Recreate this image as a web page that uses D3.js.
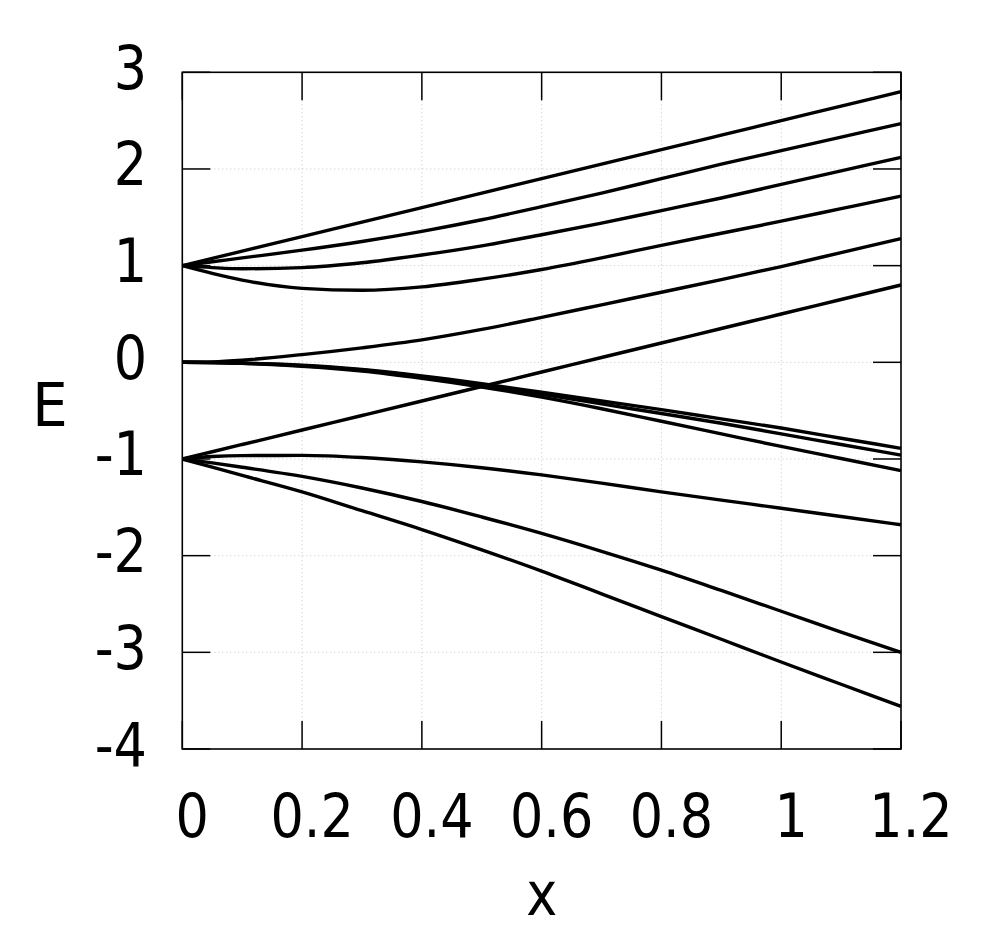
<!DOCTYPE html>
<html>
<head>
<meta charset="utf-8">
<script src="https://cdn.jsdelivr.net/npm/d3@7"></script>
<style>
  html, body { margin: 0; padding: 0; background: #fff; }
  svg { display: block; }
  text { font-family: "DejaVu Sans", Verdana, sans-serif; fill: #000; }
</style>
</head>
<body>
<svg id="chart" width="1000" height="950"></svg>
<script>
// ---- data ----
const xValues = [0, 0.05, 0.1, 0.2, 0.3, 0.4, 0.5, 0.6, 0.7, 0.8, 0.9, 1.0, 1.1, 1.2];

const level1  = [1, 1.075, 1.15, 1.3, 1.45, 1.6, 1.75, 1.9, 2.05, 2.2, 2.35, 2.5, 2.65, 2.8];
const level2  = [1, 1.04, 1.08, 1.16, 1.25, 1.355, 1.475, 1.61, 1.75, 1.9, 2.05, 2.19, 2.33, 2.47];
const level3  = [1, 0.98, 0.968, 0.98, 1.03, 1.11, 1.205, 1.32, 1.44, 1.57, 1.7, 1.84, 1.98, 2.12];
const level4  = [1, 0.92, 0.85, 0.765, 0.745, 0.78, 0.86, 0.96, 1.08, 1.21, 1.335, 1.46, 1.59, 1.72];
const level5  = [0, 0.005, 0.022, 0.08, 0.15, 0.232, 0.34, 0.465, 0.595, 0.725, 0.855, 0.99, 1.135, 1.28];
const level6  = [-1, -0.925, -0.85, -0.7, -0.55, -0.4, -0.25, -0.1, 0.05, 0.2, 0.35, 0.5, 0.65, 0.8];
const level7  = [0, -0.002, -0.008, -0.03, -0.075, -0.14, -0.22, -0.31, -0.4, -0.49, -0.585, -0.68, -0.785, -0.89];
const level8  = [0, -0.002, -0.009, -0.035, -0.08, -0.15, -0.235, -0.33, -0.43, -0.53, -0.63, -0.74, -0.85, -0.96];
const level9  = [0, -0.003, -0.01, -0.04, -0.09, -0.165, -0.255, -0.36, -0.48, -0.61, -0.74, -0.87, -0.995, -1.12];
const level10 = [-1, -0.975, -0.965, -0.963, -0.985, -1.03, -1.09, -1.165, -1.25, -1.34, -1.425, -1.51, -1.595, -1.68];
const level11 = [-1, -1.04, -1.085, -1.18, -1.3, -1.44, -1.6, -1.77, -1.955, -2.15, -2.36, -2.575, -2.79, -3.0];
const level12 = [-1, -1.085, -1.17, -1.34, -1.535, -1.73, -1.94, -2.16, -2.395, -2.63, -2.865, -3.1, -3.33, -3.56];

const levels = [level1, level2, level3, level4, level5, level6,
                level7, level8, level9, level10, level11, level12];

const xTicks = [0, 0.2, 0.4, 0.6, 0.8, 1, 1.2];
const xTickLabels = ["0", "0.2", "0.4", "0.6", "0.8", "1", "1.2"];
const yTicks = [-4, -3, -2, -1, 0, 1, 2, 3];
const yTickLabels = ["-4", "-3", "-2", "-1", "0", "1", "2", "3"];
const xTitle = "x";
const yTitle = "E";

(function () {
  // ---- layout ----
  const svg = d3.select("#chart");
  const pLeft = 182.3, pRight = 901, pTop = 72.3, pBottom = 749;
  const x = d3.scaleLinear().domain([0, 1.2]).range([pLeft, pRight]);
  const y = d3.scaleLinear().domain([-4, 3]).range([pBottom, pTop]);
  const tickLen = 28;
  const fontSize = 61;
  const squeeze = 0.86;

  // grid
  const grid = svg.append("g")
    .attr("stroke", "#c4c4c4").attr("stroke-width", 1)
    .attr("stroke-dasharray", "1,3");
  grid.selectAll("line.gx").data(xTicks.filter(d => d > 0 && d < 1.2)).enter()
    .append("line")
    .attr("x1", d => x(d)).attr("x2", d => x(d))
    .attr("y1", pTop).attr("y2", pBottom);
  grid.selectAll("line.gy").data(yTicks.filter(d => d > -4 && d < 3)).enter()
    .append("line")
    .attr("x1", pLeft).attr("x2", pRight)
    .attr("y1", d => y(d)).attr("y2", d => y(d));

  // curves
  const line = d3.line()
    .x((d, i) => x(xValues[i]))
    .y(d => y(d))
    .curve(d3.curveMonotoneX);
  svg.append("g").selectAll("path").data(levels).enter()
    .append("path")
    .attr("d", d => line(d))
    .attr("fill", "none")
    .attr("stroke", "#000")
    .attr("stroke-width", 3.4)
    .attr("stroke-linejoin", "round");

  // frame
  svg.append("rect")
    .attr("x", pLeft).attr("y", pTop)
    .attr("width", pRight - pLeft).attr("height", pBottom - pTop)
    .attr("fill", "none").attr("stroke", "#000").attr("stroke-width", 1.6);

  // ticks (inward, mirrored)
  const ticks = svg.append("g").attr("stroke", "#000").attr("stroke-width", 1.5);
  xTicks.forEach(d => {
    ticks.append("line").attr("x1", x(d)).attr("x2", x(d)).attr("y1", pBottom).attr("y2", pBottom - tickLen);
    ticks.append("line").attr("x1", x(d)).attr("x2", x(d)).attr("y1", pTop).attr("y2", pTop + tickLen);
  });
  yTicks.forEach(d => {
    ticks.append("line").attr("x1", pLeft).attr("x2", pLeft + tickLen).attr("y1", y(d)).attr("y2", y(d));
    ticks.append("line").attr("x1", pRight).attr("x2", pRight - tickLen).attr("y1", y(d)).attr("y2", y(d));
  });

  // tick labels
  svg.append("g").selectAll("text").data(xTicks).enter()
    .append("text")
    .attr("transform", d => `translate(${x(d) + 10},837) scale(${squeeze},1)`)
    .attr("text-anchor", "middle")
    .attr("font-size", fontSize)
    .text((d, i) => xTickLabels[i]);

  svg.append("g").selectAll("text").data(yTicks).enter()
    .append("text")
    .attr("transform", d => `translate(147,${y(d) + 16.5}) scale(${squeeze},1)`)
    .attr("text-anchor", "end")
    .attr("font-size", fontSize)
    .text((d, i) => yTickLabels[i]);

  // axis titles
  svg.append("text")
    .attr("transform", `translate(${(pLeft + pRight) / 2},915) scale(${squeeze},1)`)
    .attr("text-anchor", "middle")
    .attr("font-size", fontSize)
    .text(xTitle);

  svg.append("text")
    .attr("transform", `translate(50,426) scale(0.92,1)`)
    .attr("text-anchor", "middle")
    .attr("font-size", fontSize)
    .text(yTitle);
})();
</script>
</body>
</html>
